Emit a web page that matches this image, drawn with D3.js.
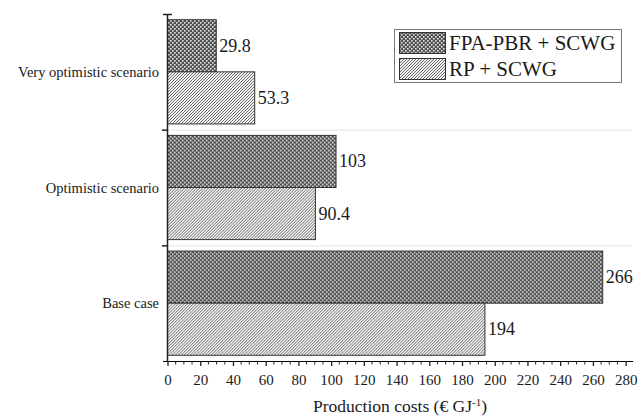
<!DOCTYPE html>
<html>
<head>
<meta charset="utf-8">
<script src="https://cdn.jsdelivr.net/npm/d3@7"></script>
</head>
<body style="margin:0; background:#fff">
<div id="chart"></div>
<script>
// data
let categories = ["Very optimistic scenario", "Optimistic scenario", "Base case"];
let seriesNames = ["FPA-PBR + SCWG", "RP + SCWG"];
let fpaValues = [29.8, 103, 266];
let rpValues = [53.3, 90.4, 194];
let fpaLabels = ["29.8", "103", "266"];
let rpLabels = ["53.3", "90.4", "194"];
let xTicks = [0, 20, 40, 60, 80, 100, 120, 140, 160, 180, 200, 220, 240, 260, 280];

let w = 638;
let h = 418;
let serif = "Liberation Serif";

let viz = d3.select("#chart").append("svg")
  .attr("width", w)
  .attr("height", h);

// hatch patterns
let defs = viz.append("defs");
let cross = defs.append("pattern")
  .attr("id", "crossHatch")
  .attr("patternUnits", "userSpaceOnUse")
  .attr("width", 4).attr("height", 4);
cross.append("rect").attr("width", 4).attr("height", 4).attr("fill", "#505050");
cross.append("rect").attr("x", 0).attr("y", 0).attr("width", 1.6).attr("height", 1.6).attr("fill", "#e8e8e8");
cross.append("rect").attr("x", 2).attr("y", 2).attr("width", 1.6).attr("height", 1.6).attr("fill", "#e8e8e8");

let diag = defs.append("pattern")
  .attr("id", "diagHatch")
  .attr("patternUnits", "userSpaceOnUse")
  .attr("width", 3).attr("height", 3);
diag.append("rect").attr("width", 3).attr("height", 3).attr("fill", "#f4f4f4");
diag.append("path")
  .attr("d", "M-1,1 l2,-2 M0,3 l3,-3 M2,4 l2,-2")
  .attr("stroke", "#444")
  .attr("stroke-width", 0.8);

let fills = ["url(#crossHatch)", "url(#diagHatch)"];

let xScale = d3.scaleLinear()
  .domain([0, 284.5])
  .range([167.5, 633]);

let yScale = d3.scaleBand()
  .domain(categories)
  .range([14, 361])
  .padding(0);

let subScale = d3.scaleBand()
  .domain(seriesNames)
  .range([0, yScale.bandwidth()])
  .paddingOuter(0.11)
  .paddingInner(0);

// light dotted separators between groups
viz.append("g").selectAll("line")
  .data(categories.slice(1))
  .enter().append("line")
  .attr("x1", xScale(0))
  .attr("x2", xScale(284))
  .attr("y1", d => yScale(d) + 0.5)
  .attr("y2", d => yScale(d) + 0.5)
  .attr("stroke", "#ddd")
  .attr("stroke-dasharray", "3,1");

// rows of data
let rows = categories.map((c, i) => ({
  cat: c,
  vals: [
    { s: seriesNames[0], v: fpaValues[i], label: fpaLabels[i] },
    { s: seriesNames[1], v: rpValues[i], label: rpLabels[i] }
  ]
}));

let groups = viz.append("g").selectAll(".grp")
  .data(rows)
  .enter().append("g")
  .attr("class", "grp")
  .attr("transform", d => "translate(0," + yScale(d.cat) + ")");

groups.selectAll("rect")
  .data(d => d.vals)
  .enter().append("rect")
  .attr("x", xScale(0))
  .attr("y", d => subScale(d.s))
  .attr("width", d => xScale(d.v) - xScale(0))
  .attr("height", subScale.bandwidth())
  .attr("fill", (d, i) => fills[i])
  .attr("stroke", "#333")
  .attr("stroke-width", 1);

groups.selectAll(".val")
  .data(d => d.vals)
  .enter().append("text")
  .attr("class", "val")
  .attr("x", d => xScale(d.v) + 3)
  .attr("y", d => subScale(d.s) + subScale.bandwidth() / 2 + 6)
  .style("font-size", "18px")
  .text(d => d.label);

// x axis
let xAxis = d3.axisBottom(xScale)
  .tickValues(xTicks)
  .tickSize(5)
  .tickFormat(d3.format("d"));
let xAxisGroup = viz.append("g")
  .attr("transform", "translate(0,361)")
  .call(xAxis);
xAxisGroup.attr("font-family", serif);
xAxisGroup.select(".domain").attr("d", "M163,0.5H633");
xAxisGroup.selectAll(".tick line").attr("stroke", "#222").attr("stroke-width", 1.3);
xAxisGroup.selectAll("text")
  .style("font-size", "15px")
  .attr("dy", "1.05em")
  .attr("fill", "#222");

// minor ticks every 5
let minor = d3.range(0, 285, 5).filter(v => v % 20 != 0);
xAxisGroup.selectAll(".minor")
  .data(minor)
  .enter().append("line")
  .attr("x1", d => xScale(d))
  .attr("x2", d => xScale(d))
  .attr("y1", 0.5)
  .attr("y2", 3.5)
  .attr("stroke", "#222");

// y axis
let yAxisGroup = viz.append("g");
yAxisGroup.append("line")
  .attr("x1", 167.5).attr("x2", 167.5)
  .attr("y1", 14).attr("y2", 361)
  .attr("stroke", "#222").attr("stroke-width", 1.5);
yAxisGroup.append("line")
  .attr("x1", 163).attr("x2", 172)
  .attr("y1", 14.5).attr("y2", 14.5)
  .attr("stroke", "#222").attr("stroke-width", 1.5);
yAxisGroup.selectAll(".sep")
  .data(categories.slice(1))
  .enter().append("line")
  .attr("x1", 162).attr("x2", 167.5)
  .attr("y1", d => yScale(d) + 0.5)
  .attr("y2", d => yScale(d) + 0.5)
  .attr("stroke", "#222").attr("stroke-width", 1.5);
yAxisGroup.selectAll(".cat")
  .data(categories)
  .enter().append("text")
  .attr("x", 159)
  .attr("y", d => yScale(d) + yScale.bandwidth() / 2 + 5)
  .attr("text-anchor", "end")
  .style("font-size", "14.5px")
  .text(d => d);

// axis title
let title = viz.append("text")
  .attr("x", 400)
  .attr("y", 412)
  .attr("text-anchor", "middle")
  .style("font-size", "17.5px");
title.append("tspan").text("Production costs (€ GJ");
title.append("tspan").attr("dy", -6).style("font-size", "11px").text("-1");
title.append("tspan").attr("dy", 6).text(")");

// legend
let legend = viz.append("g");
legend.append("rect")
  .attr("x", 394.5).attr("y", 29.5)
  .attr("width", 227).attr("height", 53)
  .attr("fill", "#fff")
  .attr("stroke", "#777");
let legItems = legend.selectAll(".item")
  .data(seriesNames)
  .enter().append("g")
  .attr("transform", (d, i) => "translate(399," + (32 + i * 26) + ")");
legItems.append("rect")
  .attr("x", 0.5).attr("y", 0.5)
  .attr("width", 46).attr("height", 21)
  .attr("fill", (d, i) => fills[i])
  .attr("stroke", "#333");
legItems.append("text")
  .attr("x", 50)
  .attr("y", 18)
  .style("font-size", "21px")
  .text(d => d);

// serif everywhere
viz.selectAll("text")
  .style("font-family", serif)
  .attr("fill", "#1a1a1a");
</script>
</body>
</html>
